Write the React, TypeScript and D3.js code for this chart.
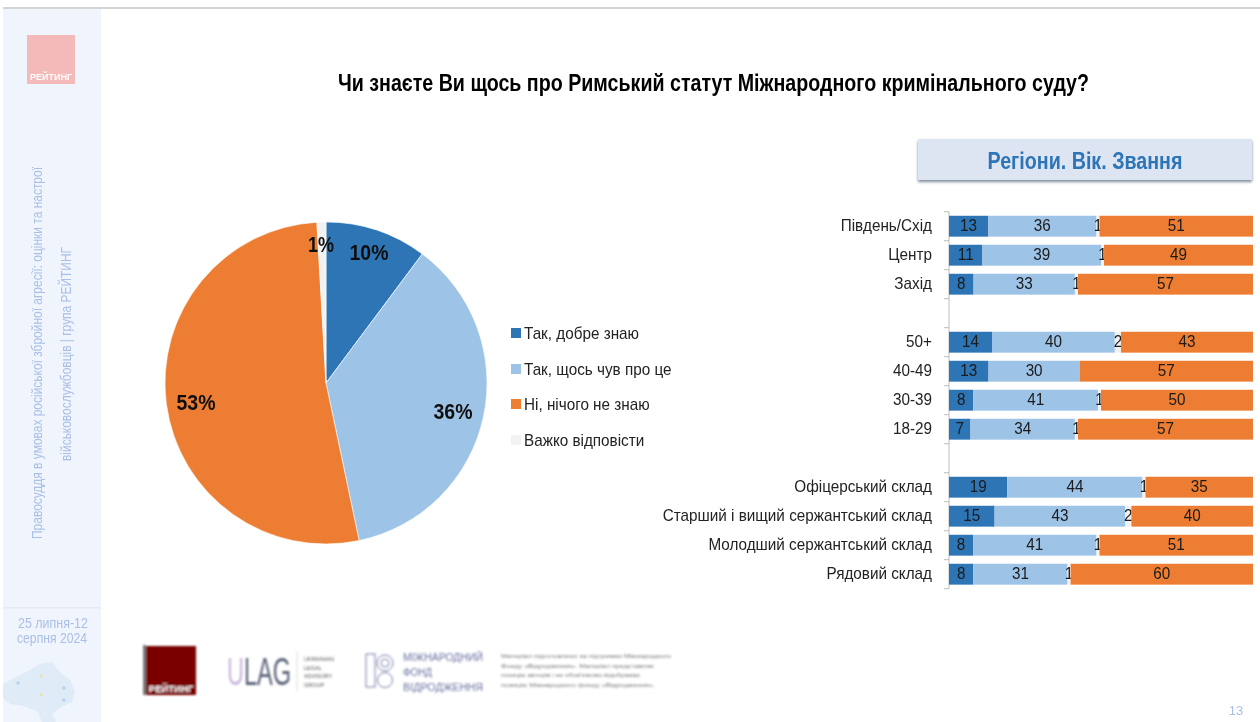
import React from "react";
import * as d3 from "d3";

const TITLE = "Чи знаєте Ви щось про Римський статут Міжнародного кримінального суду?";
const seriesKeys = ["Так, добре знаю", "Так, щось чув про це", "Ні, нічого не знаю", "Важко відповісти"];
const seriesColors = ["#2e75b6", "#9dc3e6", "#ed7d31", "#f2f2f2"];
const pieValues = [10.2, 36.5, 52.4, 0.9];
const pieLabels = ["10%", "36%", "53%", "1%"];
const categories = [
  "Південь/Схід", "Центр", "Захід", "_a",
  "50+", "40-49", "30-39", "18-29", "_b",
  "Офіцерський склад", "Старший і вищий сержантський склад", "Молодший сержантський склад", "Рядовий склад",
];
const good = [13, 11, 8, 0, 14, 13, 8, 7, 0, 19, 15, 8, 8];
const heard = [36, 39, 33, 0, 40, 30, 41, 34, 0, 44, 43, 41, 31];
const none = [51, 49, 57, 0, 43, 57, 50, 57, 0, 35, 40, 51, 60];
const hard = [1, 1, 1, 0, 2, 0, 1, 1, 0, 1, 2, 1, 1];
const footerNote = [
  "Матеріал підготовлено за підтримки Міжнародного",
  "Фонду «Відродження». Матеріал представляє",
  "позицію авторів і не обов'язково відображає",
  "позицію Міжнародного фонду «Відродження».",
];
const ulagLines = ["UKRAINIAN", "LEGAL", "ADVISORY", "GROUP"];
const fundLines = ["МІЖНАРОДНИЙ", "ФОНД", "ВІДРОДЖЕННЯ"];

const FONT = "'Liberation Sans', Arial, sans-serif";
const W = 1260, H = 722;

export default function App() {
  const cx = 326, cy = 383, R = 161;
  const pie = d3.pie<number>().sort(null)(pieValues);
  const arc = d3.arc<d3.PieArcDatum<number>>().innerRadius(0).outerRadius(R);
  const labelPos: [number, number][] = [[369, 254], [453, 413], [196, 404], [321, 246]];

  const rows = categories.map((c, i) => ({ cat: c, a: good[i], b: heard[i], d: hard[i], c: none[i] }));
  const stack = d3.stack<any>().keys(["a", "b", "d", "c"]).offset(d3.stackOffsetExpand)(rows);
  const x = d3.scaleLinear().domain([0, 1]).range([949, 1253]);
  const y = d3.scaleBand().domain(categories).range([211.7, 588.7]).paddingInner(0.28).paddingOuter(0.14);
  const step = y.step();
  const colorByKey: Record<string, string> = { a: seriesColors[0], b: seriesColors[1], c: seriesColors[2], d: seriesColors[3] };
  const tickYs = d3.range(categories.length + 1).map((i) => 211.7 + i * step);
  const sx = 0.955;

  return (
    <svg width={W} height={H} viewBox={`0 0 ${W} ${H}`} style={{ position: "absolute", left: 0, top: 0, background: "#fff" }} fontFamily={FONT}>
      <defs>
        <filter id="soft" x="-5%" y="-5%" width="110%" height="110%"><feGaussianBlur stdDeviation="0.55" /></filter>
        <filter id="softer" x="-5%" y="-5%" width="110%" height="110%"><feGaussianBlur stdDeviation="0.9" /></filter>
        <filter id="shadow" x="-5%" y="-20%" width="110%" height="140%"><feGaussianBlur stdDeviation="1.6" /></filter>
      </defs>
      <g filter="url(#soft)">
        {/* sidebar */}
        <rect x={3} y={9} width={98} height={713} fill="#f0f4fc" />
        <rect x={3} y={607} width={98} height={1.5} fill="#e3eaf6" />
        <rect x={3} y={7} width={1257} height={2} fill="#d4d4d4" />
        <rect x={27} y={35} width={48} height={49} fill="#f4b9b9" />
        <text x={51} y={80} fontSize={9} fontWeight="bold" fill="#fff" textAnchor="middle">РЕЙТИНГ</text>
        <text transform="translate(42,353) rotate(-90)" textAnchor="middle" fontSize={15} fill="#a9bfe6" textLength={372} lengthAdjust="spacingAndGlyphs">Правосуддя в умовах російської збройної агресії: оцінки та настрої</text>
        <text transform="translate(71,354) rotate(-90)" textAnchor="middle" fontSize={15} fill="#a9bfe6" textLength={214} lengthAdjust="spacingAndGlyphs">військовослужбовців | група РЕЙТИНГ</text>
        <text x={53} y={628} textAnchor="middle" fontSize={14} fill="#a9bfe6" textLength={70} lengthAdjust="spacingAndGlyphs">25 липня-12</text>
        <text x={52} y={643} textAnchor="middle" fontSize={14} fill="#a9bfe6" textLength={70} lengthAdjust="spacingAndGlyphs">серпня 2024</text>
        <path d="M3 684 L14 678 L26 672 L40 664 L52 662 L60 672 L70 680 L75 692 L72 702 L60 708 L52 714 L56 722 L42 722 L38 712 L24 706 L10 704 L3 698 Z" fill="#e0ebf8" />
        {[[20, 683], [46, 676], [71, 688], [46, 695], [71, 700]].map(([a, b], i) => (
          <circle key={i} cx={a * 0.9} cy={b} r={1.8} fill={i % 2 ? "#e8e4b8" : "#b4d2f0"} />
        ))}

        {/* title */}
        <text x={338} y={91} fontSize={23} fontWeight="bold" fill="#000" textLength={751} lengthAdjust="spacingAndGlyphs">{TITLE}</text>

        {/* header box */}
        <rect x={918} y={141} width={334} height={41} fill="#7f8b9c" filter="url(#shadow)" />
        <rect x={918} y={139} width={334} height={41} fill="#dde5f3" />
        <text x={1085} y={169} fontSize={23} fontWeight="bold" fill="#2e75b6" textAnchor="middle" textLength={195} lengthAdjust="spacingAndGlyphs">Регіони. Вік. Звання</text>

        {/* pie */}
        <g transform={`translate(${cx},${cy})`}>
          {pie.map((p, i) => (
            <path key={i} d={arc(p) as string} fill={seriesColors[i]} stroke="#fff" strokeWidth={0.6} />
          ))}
        </g>
        {pieLabels.map((l, i) => (
          <text key={l} x={labelPos[i][0]} y={labelPos[i][1]} fontSize={22} fontWeight="bold" fill="#111" textAnchor="middle" dominantBaseline="middle" textLength={i === 3 ? 26 : 39} lengthAdjust="spacingAndGlyphs">{l}</text>
        ))}

        {/* legend */}
        {seriesKeys.map((k, i) => {
          const ly = [333, 369, 404, 440][i];
          return (
            <g key={k}>
              <rect x={511} y={ly - 5} width={10} height={10} fill={seriesColors[i]} />
              <text transform={`translate(524,${ly + 6}) scale(${sx},1)`} fontSize={16} fill="#222">{k}</text>
            </g>
          );
        })}

        {/* bars */}
        <line x1={949} x2={949} y1={tickYs[0]} y2={tickYs[tickYs.length - 1]} stroke="#bdbdbd" strokeWidth={1} />
        {tickYs.map((t) => (
          <line key={t} x1={944} x2={949} y1={t} y2={t} stroke="#bdbdbd" strokeWidth={1} />
        ))}
        {stack.map((s) =>
          s.map((d, i) => {
            if (categories[i].startsWith("_")) return null;
            const val = (d.data as any)[s.key] as number;
            if (!val) return null;
            const bx = x(d[0]), bw = x(d[1]) - x(d[0]);
            const by = y(categories[i]) as number;
            const bh = y.bandwidth();
            return (
              <g key={s.key + i}>
                <rect x={bx} y={by} width={bw} height={bh} fill={colorByKey[s.key]} />
                <text transform={`translate(${bx + bw / 2},${by + bh / 2 + 1}) scale(${sx},1)`} fontSize={16} fill="#1a1a1a" textAnchor="middle" dominantBaseline="middle">{val}</text>
              </g>
            );
          })
        )}
        {categories.map((c) =>
          c.startsWith("_") ? null : (
            <text key={c} transform={`translate(932,${(y(c) as number) + y.bandwidth() / 2 + 1}) scale(${sx},1)`} fontSize={16} fill="#222" textAnchor="end" dominantBaseline="middle">{c}</text>
          )
        )}

        <text x={1236} y={715} fontSize={13} fill="#a9bfe6" textAnchor="middle">13</text>
      </g>

      {/* footer logos */}
      <g filter="url(#softer)">
        <rect x={143} y={645} width={3} height={50} fill="#777" />
        <rect x={146} y={646} width={50} height={49} fill="#7a0000" />
        <text x={171} y={692} fontSize={9.5} fontWeight="bold" fill="#fff" textAnchor="middle">РЕЙТИНГ</text>
        <text transform="translate(227,685) scale(0.62,1)" fontSize={38} fill="#5a6478"><tspan fill="#c9b6dc">U</tspan>LAG</text>
        <line x1={297} x2={297} y1={651} y2={691} stroke="#dcdcdc" />
        {ulagLines.map((t, i) => (
          <text key={t} x={304} y={661 + i * 8.7} fontSize={5.5} fill="#555">{t}</text>
        ))}
        <rect x={366} y={654} width={9} height={33} fill="none" stroke="#777da8" strokeWidth={1} />
        <circle cx={385} cy={663} r={8} fill="none" stroke="#777da8" strokeWidth={1} />
        <circle cx={385} cy={663} r={4} fill="none" stroke="#777da8" strokeWidth={1} />
        <circle cx={385} cy={680} r={7.5} fill="none" stroke="#777da8" strokeWidth={1} />
        {fundLines.map((t, i) => (
          <text key={t} x={403} y={661 + i * 15} fontSize={10} fill="#6a70a0" textLength={[80, 29, 80][i]} lengthAdjust="spacingAndGlyphs">{t}</text>
        ))}
        {footerNote.map((t, i) => (
          <text key={t} x={501} y={658 + i * 9.7} fontSize={6} fill="#777" textLength={[170, 153, 139, 154][i]} lengthAdjust="spacingAndGlyphs">{t}</text>
        ))}
      </g>
    </svg>
  );
}
